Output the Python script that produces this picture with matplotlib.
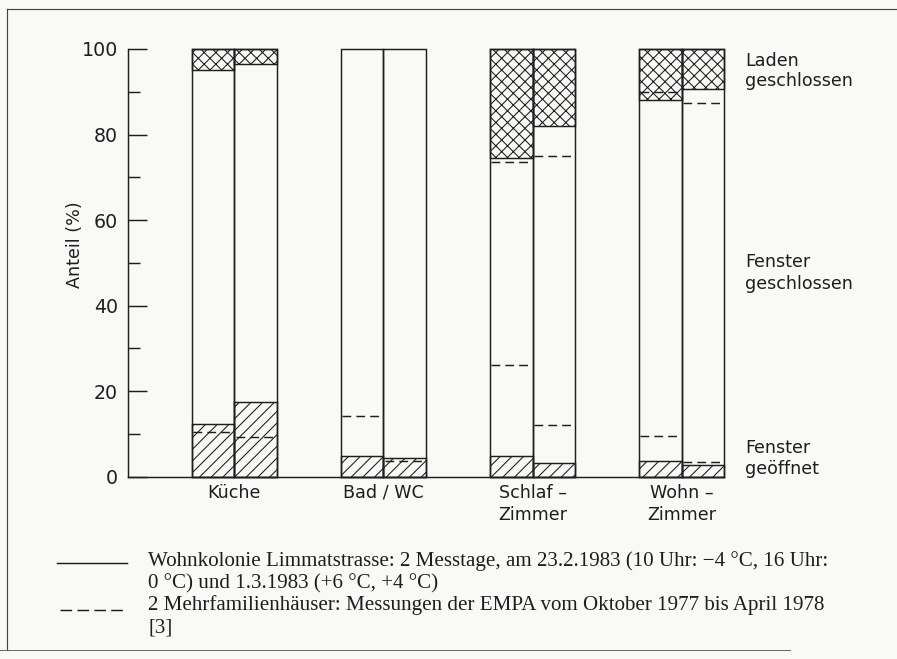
import numpy as np
import matplotlib
matplotlib.use("Agg")
import matplotlib.pyplot as plt
from matplotlib.lines import Line2D

# rooms (two bars each: the two measuring days)
rooms = ["Küche", "Bad / WC", "Schlaf –\nZimmer", "Wohn –\nZimmer"]

# Wohnkolonie Limmatstrasse (solid): upper edge of "Fenster geöffnet"
open_solid = [[12.3, 17.5], [4.9, 4.3], [4.9, 3.1], [3.6, 2.8]]
# lower edge of "Laden geschlossen"
shut_solid = [[95.1, 96.6], [100.0, 100.0], [74.4, 82.0], [88.1, 90.6]]

# EMPA, 2 Mehrfamilienhäuser (dashed)
open_dash = [[10.4, 9.2], [14.1, 3.6], [26.2, 12.1], [9.4, 3.5]]
shut_dash = [[None, None], [None, None], [73.6, 74.9], [89.9, 87.3]]

yticks = [0, 20, 40, 60, 80, 100]

W, H, DPI = 897, 659, 70
BG = "#f9f9f7"
INK = "#1e1e1e"
SANS = ["DejaVu Sans"]
SERIF = ["Liberation Serif", "DejaVu Serif"]
plt.rcParams["hatch.linewidth"] = 1.1

fig = plt.figure(figsize=(W / DPI, H / DPI), dpi=DPI, facecolor=BG)
ax = fig.add_axes([127.7 / W, 1 - 476.7 / H, (724.3 - 127.7) / W, (476.7 - 49) / H])
ax.set_facecolor(BG)

lw = 1.5
gap = 3.5
dash = (0, (6, 3.5))
for i, room in enumerate(rooms):
    for j in range(2):
        xc = 2.0 + i * gap + j
        # outline of whole bar
        ax.bar(xc, 100, width=1, bottom=0, facecolor="none", edgecolor=INK,
               linewidth=lw, clip_on=False, zorder=3)
        # Fenster geöffnet
        ax.bar(xc, open_solid[i][j], width=1, bottom=0, facecolor="none",
               edgecolor=INK, hatch="//", linewidth=lw, clip_on=False, zorder=2)
        # Laden geschlossen
        top = 100 - shut_solid[i][j]
        if top > 0:
            ax.bar(xc, top, width=1, bottom=shut_solid[i][j], facecolor="none",
                   edgecolor=INK, hatch="xx", linewidth=lw, clip_on=False, zorder=2)
        # EMPA comparison
        for v in (open_dash[i][j], shut_dash[i][j]):
            if v is not None:
                ax.hlines(v, xc - 0.47, xc + 0.47, colors=INK, linewidth=lw,
                          linestyles=dash, zorder=4)

ax.set_xlim(0, 14)
ax.set_ylim(0, 100)
ax.spines["top"].set_visible(False)
ax.spines["right"].set_visible(False)
ax.spines["left"].set_linewidth(lw)
ax.spines["bottom"].set_linewidth(lw)
ax.spines["left"].set_color(INK)
ax.spines["bottom"].set_color(INK)

ax.set_yticks(yticks)
ax.set_yticklabels([str(t) for t in yticks], family=SANS, fontsize=19.5, color=INK)
ax.set_yticks(np.arange(10, 100, 20), minor=True)
ax.tick_params(axis="y", which="major", direction="in", length=19.5, width=lw, pad=10,
               color=INK)
ax.tick_params(axis="y", which="minor", direction="in", length=12.5, width=lw, color=INK)

centers = [2.5 + i * gap for i in range(len(rooms))]
ax.set_xticks(centers)
ax.set_xticklabels(rooms, family=SANS, fontsize=18, color=INK, linespacing=1.3)
ax.tick_params(axis="x", length=0, pad=7)

fig.text(75 / W, 1 - 245 / H, "Anteil (%)", rotation=90, ha="center", va="center",
         family=SANS, fontsize=18, color=INK)

# labels on the right
xr = 14.49
ax.text(xr, 94.8, "Laden\ngeschlossen", ha="left", va="center", family=SANS,
        fontsize=18, linespacing=1.15, color=INK, clip_on=False)
ax.text(xr, 47.6, "Fenster\ngeschlossen", ha="left", va="center", family=SANS,
        fontsize=18, linespacing=1.25, color=INK, clip_on=False)
ax.text(xr, 4.2, "Fenster\ngeöffnet", ha="left", va="center", family=SANS,
        fontsize=18, linespacing=1.2, color=INK, clip_on=False)

# legend below the chart
fig.add_artist(Line2D([57 / W, 127 / W], [1 - 563 / H] * 2, color=INK, linewidth=lw))
fig.add_artist(Line2D([60 / W, 127 / W], [1 - 610 / H] * 2, color=INK, linewidth=lw,
                      linestyle=(0, (8, 3.6))))
fig.text(148 / W, 1 - 572.5 / H,
         "Wohnkolonie Limmatstrasse: 2 Messtage, am 23.2.1983 (10 Uhr: −4 °C, 16 Uhr:\n"
         "0 °C) und 1.3.1983 (+6 °C, +4 °C)",
         ha="left", va="center", family=SERIF, fontsize=21.6, linespacing=1.2,
         color=INK)
fig.text(148 / W, 1 - 616 / H,
         "2 Mehrfamilienhäuser: Messungen der EMPA vom Oktober 1977 bis April 1978\n[3]",
         ha="left", va="center", family=SERIF, fontsize=21.6, linespacing=1.25,
         color=INK)

# frame lines
fig.add_artist(Line2D([7 / W, 1.0], [1 - 9 / H] * 2, color="#444444", linewidth=1.2))
fig.add_artist(Line2D([7 / W, 7 / W], [1 - 9 / H, 1 - 650 / H], color="#444444", linewidth=1.2))
fig.add_artist(Line2D([0, 790 / W], [1 - 650 / H] * 2, color="#666666", linewidth=1.0))

fig.savefig("out.png", dpi=DPI, facecolor=BG)
